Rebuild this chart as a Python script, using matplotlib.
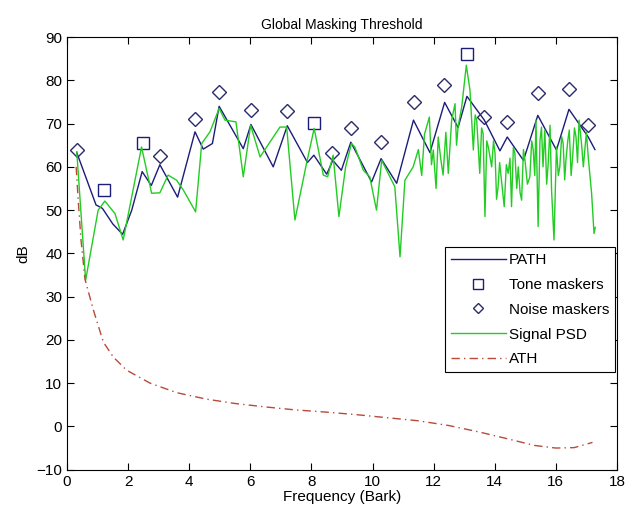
import matplotlib
matplotlib.use('Agg')
import matplotlib.pyplot as plt

# PATH (global masking threshold)
path_bark = [0.32, 0.95, 1.16, 1.5, 1.82, 2.12, 2.46, 2.76, 3.04, 3.62, 4.19, 4.46, 4.76, 4.98,
             5.77, 6.02, 6.75, 7.21, 7.87, 8.08, 8.5, 8.7, 8.98, 9.29, 9.97, 10.28, 10.79,
             11.34, 11.88, 12.36, 12.8, 13.09, 13.66, 14.17, 14.41, 14.94, 15.41, 16.02,
             16.43, 17.06, 17.28]
path_db = [63.3, 51.2, 50.4, 46.8, 44.4, 50.0, 58.9, 55.7, 60.5, 53.0, 68.1, 64.1, 65.4, 74.0,
           64.2, 69.8, 60.0, 69.5, 61.0, 62.7, 58.3, 61.5, 59.2, 65.7, 56.5, 61.9, 56.2,
           70.8, 63.3, 74.9, 69.1, 76.3, 70.8, 63.7, 66.9, 61.5, 71.9, 63.9,
           73.3, 66.9, 64.0]

# tone / noise maskers
tone_bark = [1.22, 2.48, 8.08, 13.09]
tone_db = [54.6, 65.4, 70.2, 86.0]
noise_bark = [0.32, 3.04, 4.19, 4.98, 6.02, 7.21, 8.69, 9.28, 10.27, 11.35, 12.35,
              13.66, 14.41, 15.41, 16.43, 17.06]
noise_db = [63.9, 62.5, 71.0, 77.2, 73.1, 72.9, 63.2, 69.0, 65.8, 74.9, 79.0,
            71.6, 70.4, 77.0, 77.9, 69.6]

# signal PSD
psd_bark = [0.32, 0.61, 1.02, 1.24, 1.57, 1.84, 2.44, 2.77, 3.04, 3.31, 3.59, 3.81, 4.21,
            4.41, 4.68, 4.98, 5.17, 5.53, 5.77, 6.01, 6.32, 6.97, 7.19, 7.46, 7.84, 8.09,
            8.39, 8.53, 8.71, 8.9, 9.12, 9.31, 9.42, 9.7, 9.91, 10.13, 10.3, 10.57, 10.73,
            10.9, 11.06, 11.33, 11.5, 11.61, 11.7, 11.86, 11.93, 11.99, 12.08, 12.15, 12.23,
            12.31, 12.4, 12.48, 12.59, 12.7, 12.75, 12.8, 12.92, 13.07, 13.19, 13.3, 13.36,
            13.41, 13.51, 13.57, 13.62, 13.68, 13.74, 13.79, 13.9, 13.96, 14.01, 14.06,
            14.11, 14.16, 14.22, 14.31, 14.38, 14.44, 14.5, 14.55, 14.61, 14.66, 14.72,
            14.77, 14.83, 14.88, 14.94, 14.99, 15.07, 15.15, 15.21, 15.26, 15.31, 15.35,
            15.42, 15.48, 15.53, 15.58, 15.64, 15.7, 15.75, 15.81, 15.86, 15.94, 16.02,
            16.08, 16.13, 16.19, 16.24, 16.29, 16.33, 16.39, 16.44, 16.5, 16.55, 16.61,
            16.66, 16.71, 16.76, 16.84, 16.9, 16.95, 17.0, 17.06, 17.17, 17.25, 17.29]
psd_db = [63.5, 33.8, 50.0, 52.1, 49.2, 43.1, 64.6, 53.9, 54.0, 58.1, 56.9, 54.6, 49.6,
          65.4, 68.1, 73.5, 70.8, 70.4, 57.7, 69.6, 62.3, 69.2, 69.2, 47.7, 60.8, 68.9,
          58.1, 57.7, 62.7, 48.5, 60.0, 65.4, 64.6, 59.2, 57.7, 50.0, 61.5, 57.7, 55.4,
          39.2, 56.9, 60.0, 64.0, 58.0, 67.5, 71.5, 60.5, 63.9, 55.0, 66.9, 62.0,
          58.1, 68.0, 58.5, 70.8, 74.6, 65.0, 69.2, 73.9, 83.5, 77.7, 63.9, 72.0,
          70.8, 58.5, 69.0, 67.7, 48.5, 66.0, 64.6, 60.0, 66.0, 63.1, 52.5,
          55.4, 61.0, 56.9, 50.8, 60.5, 58.5, 62.0, 50.8, 64.5, 63.1, 55.0,
          60.0, 54.0, 52.3, 64.0, 61.5, 56.0, 57.7, 66.0, 63.9, 58.0, 70.8,
          46.2, 66.0, 69.2, 60.0, 68.5, 56.0, 60.8, 69.6, 54.6, 43.1, 64.6,
          58.0, 60.0, 67.0, 65.4, 57.0, 61.5, 66.0, 68.5, 58.0, 62.3, 69.0,
          66.9, 61.0, 70.8, 65.4, 60.0, 63.9, 68.0, 62.3, 53.9, 44.6, 46.0]

# absolute threshold of hearing
ath_bark = [0.3, 0.37, 0.46, 0.59, 0.86, 1.19, 1.52, 1.95, 2.72, 3.59, 4.57, 5.5, 6.5, 7.5,
            8.5, 9.5, 10.5, 11.5, 12.5, 13.5, 14.5, 15.3, 16.0, 16.6, 17.2]
ath_db = [60.0, 52.0, 43.0, 34.0, 27.0, 19.5, 16.0, 13.0, 10.0, 7.8, 6.3, 5.3, 4.5, 3.8,
          3.3, 2.7, 2.0, 1.3, 0.2, -1.3, -3.0, -4.4, -5.0, -4.9, -3.7]

plt.rcParams['font.family'] = ['Liberation Sans', 'DejaVu Sans']
fig = plt.figure(figsize=(6.38, 5.15), dpi=100)
ax = fig.add_axes([0.105, 0.088, 0.862, 0.84])

ax.plot(path_bark, path_db, color='#1c1c7a', lw=1, label='PATH')
ax.plot(tone_bark, tone_db, ls='none', marker='s', ms=9, mfc='none', mec='#1c1c7a',
        mew=1, label='Tone maskers')
ax.plot(noise_bark, noise_db, ls='none', marker='D', ms=7, mfc='none', mec='#2a2a6a',
        mew=1, label='Noise maskers')
ax.plot(psd_bark, psd_db, color='#22cc22', lw=1, label='Signal PSD')
ax.plot(ath_bark, ath_db, color='#b84a3a', lw=1, ls=(0, (6, 3, 1, 3)), label='ATH')

ax.set_xlim(0, 18)
ax.set_ylim(-10, 90)
ax.set_xticks(range(0, 19, 2))
ax.set_yticks(range(-10, 91, 10))
ax.tick_params(direction='in', top=True, right=True, length=5, labelsize=11)
ax.set_xlabel('Frequency (Bark)', fontsize=11, labelpad=1)
ax.set_ylabel('dB', fontsize=11)
ax.set_title('Global Masking Threshold', fontsize=10, pad=6)

leg = ax.legend(loc='lower right', bbox_to_anchor=(0.997, 0.225), fontsize=11,
                handlelength=3.6, handletextpad=0.2, fancybox=False, framealpha=1,
                edgecolor='black', borderaxespad=0, labelspacing=0.7, borderpad=0.4,
                markerscale=0.75)
leg.get_frame().set_linewidth(0.8)

plt.savefig('out.png', dpi=100)
